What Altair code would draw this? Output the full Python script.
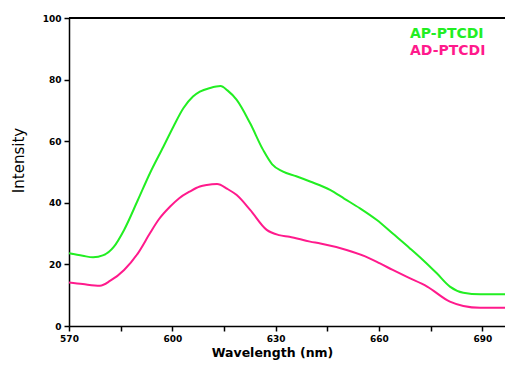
import altair as alt
import pandas as pd

ap_x = [570, 574, 577, 580, 583, 586, 590, 593.5, 597.4, 600.3, 603.2, 606, 608, 611, 614, 616,
        618.7, 622.6, 626.4, 629, 632, 636, 640, 645.8, 650, 654.5, 659.4, 664, 669, 673, 676.8,
        680.6, 684.5, 689.4, 699]
ap_y = [23.6, 22.8, 22.3, 23, 25.7, 31.2, 40.9, 49.6, 58.2, 64.7, 70.7, 74.5, 76.1, 77.3, 77.9, 76.5,
        73.4, 65.8, 57.1, 52.5, 50.2, 48.6, 46.9, 44.2, 41.3, 38.2, 34.4, 30, 25.2, 21.2, 17.1,
        12.8, 10.8, 10.3, 10.3]
ad_x = [570, 574, 579, 582, 586, 590, 593.5, 596, 599.3, 602, 605, 608, 610, 613, 616, 618.7,
        622.6, 627.4, 631, 634, 640, 643, 650.6, 656, 660.3, 664, 668, 674, 680.6, 684.5, 689.4, 699]
ad_y = [14.1, 13.6, 13.1, 14.7, 18.2, 23.6, 30.1, 34.5, 38.7, 41.5, 43.6, 45.3, 45.8, 46.1, 44.5, 42.5,
        37.7, 31.2, 29.5, 29, 27.4, 26.8, 24.7, 22.6, 20.3, 18.2, 16, 12.8, 7.9, 6.5, 5.9, 5.9]
series = ["AP-PTCDI", "AD-PTCDI"]
colors = ["#22ee22", "#ff1a8c"]
x_ticks = list(range(570, 700, 15))
y_ticks = list(range(0, 101, 10))
x_domain = [570, 696.6]
y_domain = [0, 100]

W, H = 436, 308

df = pd.concat([
    pd.DataFrame({"wl": ap_x, "val": ap_y, "series": series[0]}),
    pd.DataFrame({"wl": ad_x, "val": ad_y, "series": series[1]}),
])

xscale = alt.Scale(domain=x_domain, nice=False, zero=False)
yscale = alt.Scale(domain=y_domain, nice=False)

lines = alt.Chart(df).mark_line(strokeWidth=2, clip=True, interpolate="monotone").encode(
    x=alt.X("wl:Q", scale=xscale,
            axis=alt.Axis(title="Wavelength (nm)", values=x_ticks, labelFlush=False,
                          labelExpr="datum.value % 30 == 0 ? datum.label : ''",
                          titleX=203, titleY=26, titleBaseline="middle", titleFontSize=12.5)),
    y=alt.Y("val:Q", scale=yscale,
            axis=alt.Axis(title="Intensity", values=y_ticks, labelFlush=False,
                          labelExpr="datum.value % 20 == 0 ? datum.label : ''",
                          titleX=-51, titleY=142, titleAngle=270, titleBaseline="middle",
                          titleFontWeight="normal", titleFontSize=15)),
    color=alt.Color("series:N", scale=alt.Scale(domain=series, range=colors),
                    legend=alt.Legend(title=None, orient="none", legendX=327, legendY=9,
                                      symbolSize=0, symbolStrokeWidth=0, symbolOpacity=0,
                                      labelColor={"expr": "scale('color', datum.value)"},
                                      labelFont="DejaVu Sans", labelFontWeight="bold",
                                      labelFontSize=14, rowPadding=3, labelOffset=0)),
    order=alt.Order("wl:Q"),
)

top = alt.Chart(pd.DataFrame({"v": [y_domain[1]]})).mark_rule(color="black", strokeWidth=2).encode(
    y=alt.Y("v:Q", scale=yscale),
)

chart = alt.layer(top, lines).properties(
    width=W, height=H,
    autosize=alt.AutoSizeParams(type="none"),
    padding={"left": 61, "top": 10, "right": 0, "bottom": 35},
).configure_view(stroke=None).configure_axis(
    grid=False, domainColor="black", domainWidth=1.5, tickColor="black", tickWidth=1.5,
    tickSize=5, labelFont="DejaVu Sans", labelFontWeight="bold", labelFontSize=9,
    labelColor="black", titleFont="DejaVu Sans", titleFontWeight="bold", titleFontSize=13,
    titleColor="black", labelPadding=3,
)

chart.save("out.html", embed_options={"renderer": "svg", "actions": False})
